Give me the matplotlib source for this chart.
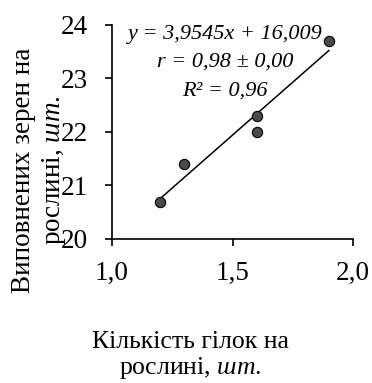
import matplotlib
matplotlib.use('Agg')
import matplotlib.pyplot as plt
import numpy as np

# branches per plant vs filled grains per plant
branches = [1.2, 1.3, 1.6, 1.6, 1.9]
grains = [20.7, 21.4, 22.3, 22.0, 23.7]

slope = 3.9545
intercept = 16.009
eq_lines = ['y = 3,9545x + 16,009', 'r = 0,98 ± 0,00', 'R² = 0,96']

x_ticks = [1.0, 1.5, 2.0]
x_ticklabels = ['1,0', '1,5', '2,0']
y_ticks = [20, 21, 22, 23, 24]

plt.rcParams['font.family'] = ['Liberation Serif', 'DejaVu Serif']
# italic unit "шт." via mathtext in the same serif font
plt.rcParams['mathtext.fontset'] = 'custom'
plt.rcParams['mathtext.rm'] = 'Liberation Serif'
plt.rcParams['mathtext.it'] = 'Liberation Serif:italic'

fig = plt.figure(figsize=(3.72, 3.83), dpi=100)
ax = fig.add_axes([0.301, 0.376, 0.648, 0.559])

ax.scatter(branches, grains, s=55, color='#4a4a4a', edgecolor='black',
           linewidth=0.8, zorder=3)

x_fit = np.array([min(branches), max(branches)])
ax.plot(x_fit, slope * x_fit + intercept, color='black', linewidth=1.1, zorder=2)

ax.set_xlim(1.0, 2.0)
ax.set_ylim(20, 24)
ax.set_xticks(x_ticks)
ax.set_xticklabels(x_ticklabels)
ax.set_yticks(y_ticks)
ax.tick_params(labelsize=19.5, direction='out', length=5, width=1.2)
ax.spines['top'].set_visible(False)
ax.spines['right'].set_visible(False)
ax.spines['left'].set_linewidth(1.2)
ax.spines['bottom'].set_linewidth(1.2)
ax.tick_params(axis='x', pad=11)
ax.tick_params(axis='y', pad=12)

for i, line in enumerate(eq_lines):
    fig.text(225 / 372, 1 - (34 + i * 28.5) / 383, line, fontsize=16,
             style='italic', ha='center', va='center')

# y axis title (two lines, shifted down like the original)
fig.text(40 / 372, 1 - 170 / 383, 'Виповнених зерен на\nрослині, $\\mathit{шт.}$',
         rotation=90, fontsize=19.5, ha='center', va='center',
         multialignment='center', linespacing=1.2)

# x axis title
fig.text(190 / 372, 1 - 356 / 383, 'Кількість гілок на\nрослині, $\\mathit{шт.}$',
         fontsize=18.5, ha='center', va='center', multialignment='center',
         linespacing=1.15)

fig.savefig('out.png', dpi=100)
